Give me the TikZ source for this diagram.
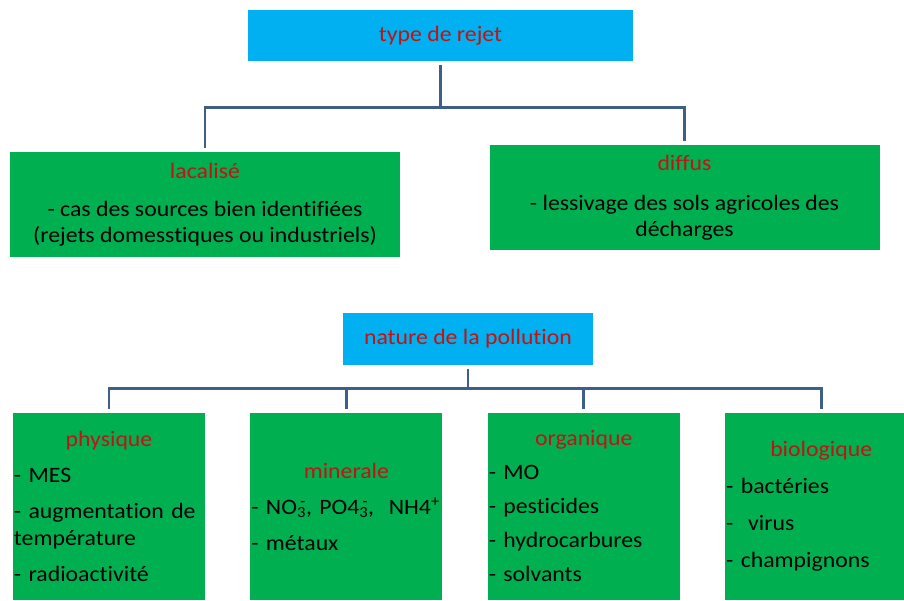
\documentclass[tikz,border=0pt]{standalone}
\usepackage{fontspec}
\setmainfont{Carlito}[FakeStretch=1.08, Ligatures=NoCommon]
\usetikzlibrary{positioning}
\definecolor{rejetcyan}{RGB}{0,176,240}
\definecolor{boxgreen}{RGB}{0,176,80}
\definecolor{titlered}{RGB}{192,20,20}
\definecolor{linkblue}{RGB}{62,96,136}
\setlength{\parindent}{0pt}
\newcommand{\boxtitle}[1]{{\color{titlered}#1}}
\newcommand{\chemion}[2]{\textsubscript{#1}\llap{\textsuperscript{#2}}}

\begin{document}
\begin{tikzpicture}[
  x=1pt, y=-1pt,
  headbox/.style={rectangle, fill=rejetcyan, text=titlered,
    font=\fontsize{22}{26}\selectfont, inner sep=0pt},
  wideleaf/.style={rectangle, fill=boxgreen,
    minimum width=390pt, minimum height=105pt,
    align=center, font=\fontsize{22}{26}\selectfont},
  leaf/.style={rectangle, fill=boxgreen,
    minimum width=192pt, minimum height=187pt,
    text width=190pt, inner xsep=1pt,
    align=left, font=\fontsize{22}{27}\selectfont},
  trunk/.style={draw=linkblue, line width=2.8pt, shorten <=4pt},
  branch/.style={draw=linkblue, line width=2.8pt, shorten >=4pt}
]
\useasboundingbox (0,0) rectangle (904,601);

% Type de rejet
\node[headbox, minimum width=385pt, minimum height=51pt] (rejet)
  at (440.5,35.5) {type de rejet};
\node[wideleaf] (local) at (205,205)
  {\boxtitle{lacalisé}\\[12pt]
   - cas des sources bien identifiées\\
   (rejets domesstiques ou industriels)};
\node[wideleaf] (diffus) at (684.5,198)
  {\boxtitle{diffus}\\[14pt]
   - lessivage des sols agricoles des\\
   décharges};

% Nature de la pollution
\node[headbox, minimum width=250pt, minimum height=52pt] (nature)
  at (468,339) {nature de la pollution};
\node[leaf] (phys) at (109,506.5)
  {\hfill\boxtitle{physique}\hfill\null\\[9pt]
   - MES\\[9pt]
   - augmentation de\\
   température\\[9pt]
   - radioactivité};
\node[leaf, right=45pt of phys] (miner)
  {\hfill\boxtitle{minerale}\hfill\null\\[9pt]
   - NO\chemion{3}{-}, PO4\chemion{3}{-},\ \ NH4\textsuperscript{+}\\[9pt]
   - métaux};
\node[leaf, right=45pt of miner] (organ)
  {\hfill\boxtitle{organique}\hfill\null\\[7pt]
   - MO\\[7pt]
   - pesticides\\[7pt]
   - hydrocarbures\\[7pt]
   - solvants};
\node[leaf, right=45pt of organ] (bio)
  {\hfill\boxtitle{biologique}\hfill\null\\[10pt]
   - bactéries\\[10pt]
   -\ \ virus\\[10pt]
   - champignons};

% Connectors
\coordinate (rejetfork) at ([yshift=-46pt]rejet.south);
\draw[trunk] (rejet) -- (rejetfork);
\draw[branch] (rejetfork) -| (local);
\draw[branch] (rejetfork) -| (diffus);

\coordinate (naturefork) at ([yshift=-23pt]nature.south);
\draw[trunk] (nature) -- (naturefork);
\foreach \n in {phys,miner,organ,bio}
  \draw[branch] (naturefork) -| (\n);
\end{tikzpicture}
\end{document}
